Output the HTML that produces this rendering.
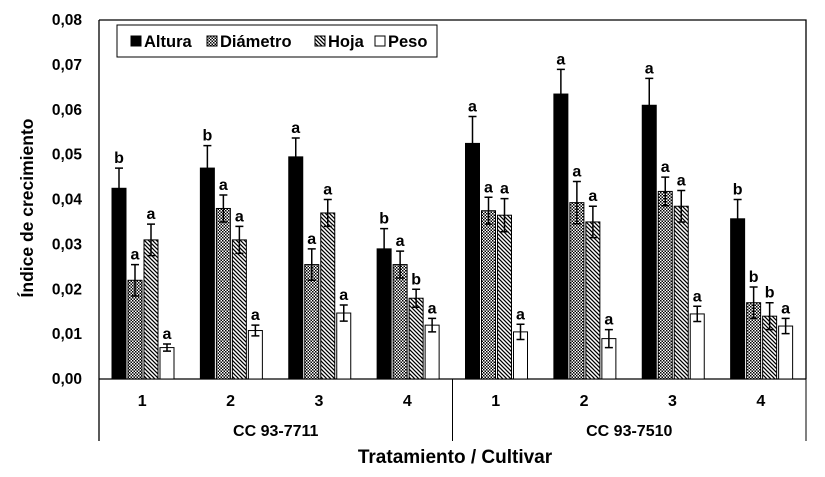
<!DOCTYPE html>
<html><head><meta charset="utf-8">
<style>
body{margin:0;background:#fff;}
svg{display:block;font-family:"Liberation Sans",Arial,sans-serif;font-weight:bold;}
</style></head>
<body>
<svg id="chart" width="825" height="477" viewBox="0 0 825 477" xmlns="http://www.w3.org/2000/svg">
<defs>
<pattern id="pCheck" width="3" height="3" patternUnits="userSpaceOnUse">
<rect width="3" height="3" fill="#fff"/><rect width="1.5" height="1.5" fill="#000"/><rect x="1.5" y="1.5" width="1.5" height="1.5" fill="#000"/>
</pattern>
<pattern id="pDiag" width="4" height="4" patternUnits="userSpaceOnUse">
<rect width="4" height="4" fill="#fff"/><path d="M-1,-1 L5,5 M-1,3 L1,5 M3,-1 L5,1" stroke="#000" stroke-width="1.3"/>
</pattern>
</defs>
<g id="plot"></g>
</svg>
<script>
const categories = ["1","2","3","4","1","2","3","4"];
const cultivars = ["CC 93-7711","CC 93-7510"];
const seriesNames = ["Altura","Diámetro","Hoja","Peso"];
const altura   = [0.0425,0.047,0.0495,0.029,0.0525,0.0635,0.061,0.0357];
const diametro = [0.022,0.038,0.0255,0.0255,0.0375,0.0393,0.0418,0.017];
const hoja     = [0.031,0.031,0.037,0.018,0.0365,0.035,0.0385,0.014];
const peso     = [0.007,0.0108,0.0147,0.012,0.0105,0.009,0.0145,0.0118];
const errAltura   = [0.0045,0.005,0.0042,0.0045,0.006,0.0055,0.006,0.0043];
const errDiametro = [0.0035,0.003,0.0035,0.003,0.003,0.0047,0.0032,0.0035];
const errHoja     = [0.0035,0.003,0.003,0.002,0.0037,0.0035,0.0035,0.003];
const errPeso     = [0.0008,0.0012,0.0018,0.0015,0.0017,0.002,0.0017,0.0017];
const letters = [
 ["b","b","a","b","a","a","a","b"],
 ["a","a","a","a","a","a","a","b"],
 ["a","a","a","b","a","a","a","b"],
 ["a","a","a","a","a","a","a","a"]];
const yTicks = [0,0.01,0.02,0.03,0.04,0.05,0.06,0.07,0.08];
const yTickLabels = ["0,00","0,01","0,02","0,03","0,04","0,05","0,06","0,07","0,08"];

const NS="http://www.w3.org/2000/svg";
const g=document.getElementById('plot');
const L=99,R=806,T=20,B=379;
const gw=(R-L)/categories.length;
function y(v){return B-(v/0.08)*(B-T);}
function xBar(i,s){return L+i*gw+13+s*16;}
function mk(tag,at,txt){const e=document.createElementNS(NS,tag);for(const k in at)e.setAttribute(k,at[k]);if(txt!==undefined)e.textContent=txt;g.appendChild(e);return e;}

let e;
e=mk('path',{d:`M${L},${T} L${R},${T} L${R},${B}`,fill:'none',stroke:'#000','stroke-width':1.3});

e=mk('line',{x1:L,y1:T,x2:L,y2:441,stroke:'#000','stroke-width':1.3});

e=mk('line',{x1:L,y1:B,x2:R,y2:B,stroke:'#000','stroke-width':1.3});

e=mk('line',{x1:(L+R)/2,y1:B,x2:(L+R)/2,y2:441,stroke:'#000','stroke-width':1});

e=mk('line',{x1:R,y1:B,x2:R,y2:441,stroke:'#000','stroke-width':1});


yTicks.forEach((v,i)=>{
 e=mk('text',{x:82,y:y(v)+5,'text-anchor':'end','font-size':15.5},yTickLabels[i]);
 
});
e=mk('text',{x:0,y:0,'text-anchor':'middle','font-size':17.5,transform:'translate(33,208) rotate(-90)'},'Índice de crecimiento');


categories.forEach((c,i)=>{
 e=mk('text',{x:L+i*gw+gw/2-1,y:406,'text-anchor':'middle','font-size':16},c);
 
});
cultivars.forEach((c,i)=>{
 e=mk('text',{x:L+(i+0.5)*(R-L)/2,y:436,'text-anchor':'middle','font-size':16},c);
 
});
e=mk('text',{x:455,y:463,'text-anchor':'middle','font-size':19},'Tratamiento / Cultivar');


const series=[altura,diametro,hoja,peso];
const errs=[errAltura,errDiametro,errHoja,errPeso];
const fills=['#000','url(#pCheck)','url(#pDiag)','#fff'];
series.forEach((vals,s)=>{
 vals.forEach((v,i)=>{
  const x=xBar(i,s),w=14,cx=x+w/2;
  e=mk('rect',{x:x,y:y(v),width:w,height:B-y(v),fill:fills[s],stroke:'#000','stroke-width':1});
  
  
  const top=y(v+errs[s][i]),bot=y(v-errs[s][i]);
  e=mk('path',{d:`M${cx},${top} L${cx},${bot} M${cx-4},${top} L${cx+4},${top} M${cx-4},${bot} L${cx+4},${bot}`,stroke:'#000','stroke-width':1.5,fill:'none'});
  
  e=mk('text',{x:cx,y:top-5,'text-anchor':'middle','font-size':16},letters[s][i]);
  
 });
});

e=mk('rect',{x:117,y:25,width:320,height:32,fill:'#fff',stroke:'#000','stroke-width':1});

const lx=[131,207,315,375];
seriesNames.forEach((n,s)=>{
 e=mk('rect',{x:lx[s],y:36,width:10,height:10,fill:fills[s],stroke:'#000','stroke-width':1});
 
 e=mk('text',{x:lx[s]+13,y:47,'font-size':16.5},n);
 
});
</script>
</body></html>
